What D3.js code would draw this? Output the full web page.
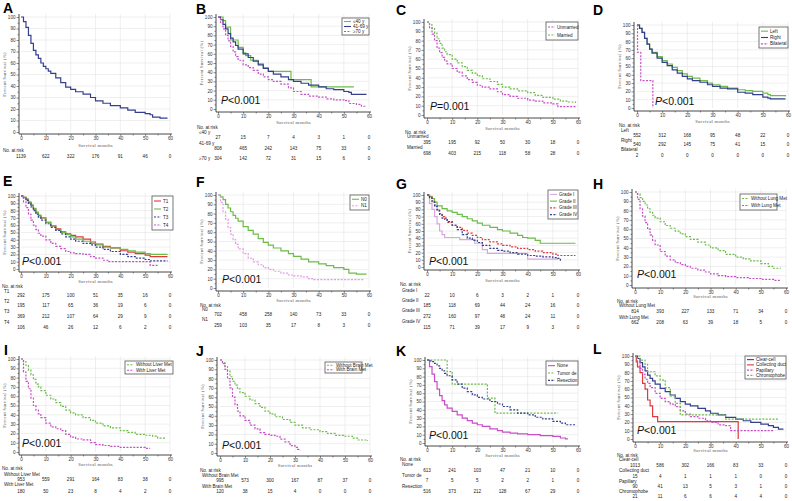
<!DOCTYPE html>
<html>
<head>
<meta charset="utf-8">
<script src="https://cdn.jsdelivr.net/npm/d3@7"></script>
<style>
  body { margin: 0; background: #fff; }
  svg { display: block; font-family: Arial, "Liberation Sans", sans-serif; }
</style>
</head>
<body>
<script>
// ticks shared by every panel
const monthTicks = [0, 10, 20, 30, 40, 50, 60];
const minorMonths = [5, 15, 25, 35, 45, 55];
const pctTicks = [0, 10, 20, 30, 40, 50, 60, 70, 80, 90, 100];
const minorPct = [5, 15, 25, 35, 45, 55, 65, 75, 85, 95];

// A - all patients
const aAll = [[0,100],[1,96],[2,91],[3,84],[4,77],[5,71],[6,67],[7,64],[8,60],[9,57],[10,55],[11,53],[12,51],[14,47],[16,43],[18,39],[20,37],[22,35],[25,33],[28,30],[30,27],[33,25],[36,23],[40,21],[43,19],[46,17],[50,16],[52,15],[53,13],[56,12],[59,12]];
const aRisk = [1139, 622, 322, 176, 91, 46, 0];

// B - age
const bNames = ['≤40 y', '41-69 y', '≥70 y'];
const b40 = [[0,100],[2,96],[3,89],[5,75],[8,67],[10,61],[11,58],[13,53],[16,49],[18,45],[20,41],[29,32],[37,24],[54,24]];
const b4169 = [[0,100],[1,97],[2,92],[3,87],[4,82],[5,77],[6,73],[7,69],[8,65],[10,60],[12,56],[14,52],[16,48],[18,44],[20,41],[22,38],[25,35],[28,32],[30,30],[33,28],[36,26],[40,24],[43,22],[46,21],[50,19],[52,18],[53,16],[59,16]];
const b70 = [[0,100],[1,94],[2,87],[3,80],[4,74],[5,68],[6,62],[7,57],[8,53],[10,48],[12,45],[14,42],[16,38],[18,35],[20,32],[22,30],[25,27],[28,23],[30,19],[33,16],[36,14],[40,13],[43,11],[46,10],[50,9],[52,6],[55,5],[57,3],[59,3]];
const bRisk = [[27,15,7,4,3,1,0],[808,465,242,143,75,33,0],[304,142,72,31,15,6,0]];

// C - marital status
const cNames = ['Unmarried', 'Married'];
const cUnmarried = [[0,100],[1,94],[2,87],[3,80],[4,72],[5,67],[6,62],[7,58],[8,55],[10,50],[12,46],[14,42],[16,38],[18,35],[20,32],[22,30],[25,28],[28,25],[30,22],[33,20],[36,18],[40,16],[43,15],[46,13],[50,12],[52,9],[59,9]];
const cMarried = [[0,100],[1,97],[2,93],[3,88],[4,82],[5,77],[6,72],[7,68],[8,65],[10,60],[12,56],[14,52],[16,48],[18,45],[20,42],[22,39],[25,36],[28,33],[30,30],[33,28],[36,26],[40,24],[43,21],[46,19],[50,17],[53,15],[56,14],[59,13]];
const cRisk = [[395,195,92,50,30,18,0],[698,403,215,118,58,28,0]];

// D - laterality
const dNames = ['Left', 'Right', 'Bilateral'];
const dLeft = [[0,100],[1,96],[2,91],[3,84],[4,77],[5,71],[6,67],[8,62],[10,57],[12,53],[14,49],[16,45],[18,41],[20,38],[22,36],[25,33],[28,30],[30,28],[33,26],[36,24],[40,22],[43,21],[46,20],[50,18],[52,16],[53,15],[59,14]];
const dRight = [[0,100],[1,96],[2,91],[3,84],[4,77],[5,71],[6,66],[8,60],[10,55],[12,51],[14,46],[16,42],[18,38],[20,35],[22,33],[25,31],[28,28],[30,26],[33,24],[36,23],[40,19],[43,18],[46,16],[50,13],[52,12],[53,11],[59,11]];
const dBilateral = [[0,100],[0.2,67],[1.5,33],[6.3,0]];
const dRisk = [[552,312,168,95,48,22,0],[540,292,145,75,41,15,0],[2,0,0,0,0,0,0]];

// E - T stage
const eNames = ['T1', 'T2', 'T3', 'T4'];
const eT1 = [[0,100],[1,98],[2,95],[3,91],[4,87],[5,82],[6,77],[7,73],[8,70],[10,64],[12,59],[14,55],[16,51],[18,48],[20,46],[22,44],[25,41],[28,37],[30,34],[33,31],[36,29],[40,25],[43,23],[46,21],[50,19],[52,17],[59,17]];
const eT2 = [[0,100],[1,98],[2,96],[3,92],[4,88],[5,83],[6,78],[7,74],[8,70],[10,64],[12,59],[14,54],[16,50],[18,47],[20,44],[22,41],[25,38],[28,35],[30,33],[33,30],[36,29],[40,27],[43,25],[46,23],[50,21],[52,20],[59,20]];
const eT3 = [[0,100],[1,97],[2,94],[3,90],[4,85],[5,80],[6,75],[7,71],[8,67],[10,62],[12,57],[14,53],[16,48],[18,44],[20,41],[22,38],[25,35],[28,33],[30,30],[33,27],[36,24],[40,20],[43,17],[46,15],[50,13],[52,11],[59,11]];
const eT4 = [[0,100],[1,92],[2,84],[3,75],[4,67],[5,60],[6,54],[7,49],[8,45],[10,40],[12,35],[14,31],[16,28],[18,24],[20,22],[22,21],[25,20],[28,17],[30,15],[33,12],[35,10],[52,5],[55,5]];
const eRisk = [[292,175,100,51,35,16,0],[195,117,65,36,19,6,0],[369,212,107,64,29,9,0],[106,46,26,12,6,2,0]];

// F - N stage
const fNames = ['N0', 'N1'];
const fN0 = [[0,100],[1,98],[2,95],[3,90],[4,86],[5,82],[6,78],[7,75],[8,72],[10,66],[12,62],[14,58],[16,53],[18,49],[20,46],[22,43],[25,40],[28,37],[30,34],[33,31],[36,28],[40,26],[43,24],[46,22],[50,20],[52,16],[55,15],[59,15]];
const fN1 = [[0,100],[1,92],[2,82],[3,74],[4,65],[5,58],[6,52],[7,47],[8,42],[10,37],[12,32],[14,28],[16,25],[18,22],[20,20],[22,18],[25,16],[28,14],[30,13],[33,12],[36,10],[38,9],[58,9]];
const fRisk = [[702,458,258,140,73,33,0],[259,103,35,17,8,3,0]];

// G - grade
const gNames = ['Grade I', 'Grade II', 'Grade III', 'Grade IV'];
const gI = [[0,100],[1,88],[2,80],[3,70],[4,60],[5,50],[6,45],[7,41],[13,38],[19,33],[22,24],[24,19],[40,11],[52,11]];
const gII = [[0,100],[1,98],[2,95],[3,90],[4,85],[6,81],[8,78],[10,76],[12,73],[14,70],[16,67],[18,64],[20,61],[22,58],[25,55],[28,52],[30,50],[33,47],[36,44],[38,41],[40,40],[43,37],[45,33],[59,33]];
const gIII = [[0,100],[1,97],[2,92],[3,86],[4,80],[5,74],[6,70],[7,66],[8,62],[10,58],[12,55],[14,51],[16,47],[18,44],[20,41],[22,38],[25,35],[28,32],[30,30],[33,28],[36,26],[40,24],[43,22],[46,20],[50,18],[52,16],[59,16]];
const gIV = [[0,100],[1,96],[2,90],[3,84],[4,78],[5,73],[6,68],[8,63],[10,58],[12,52],[14,45],[16,40],[18,37],[20,34],[22,30],[25,26],[28,23],[30,22],[33,20],[36,18],[40,16],[43,15],[46,14],[50,13],[52,12],[53,7]];
const gRisk = [[22,10,6,3,2,1,0],[185,118,69,44,24,16,0],[272,160,97,48,24,11,0],[115,71,39,17,9,3,0]];

// H - lung metastasis
const hNames = ['Without Lung Met', 'With Lung Met'];
const hWithout = [[0,100],[1,98],[2,94],[3,90],[4,86],[5,82],[6,78],[7,75],[8,72],[10,68],[12,64],[14,61],[16,58],[18,55],[20,52],[22,49],[25,46],[28,43],[30,40],[33,37],[36,33],[40,30],[43,28],[46,26],[50,23],[53,20],[55,18],[58,18]];
const hWith = [[0,100],[1,92],[2,82],[3,74],[4,67],[5,60],[6,54],[7,48],[8,43],[10,36],[12,31],[14,27],[16,24],[18,22],[20,20],[22,18],[25,16],[28,14],[30,12],[33,10],[36,9],[40,8],[45,7],[50,6],[55,5],[58,5]];
const hRisk = [[814,393,227,133,71,34,0],[662,208,63,39,18,5,0]];

// I - liver metastasis
const iNames = ['Without Liver Met', 'With Liver Met'];
const iWithout = [[0,100],[1,97],[2,93],[3,88],[4,83],[5,78],[6,73],[7,70],[8,66],[10,61],[12,57],[14,53],[16,49],[18,45],[20,42],[22,40],[25,37],[28,34],[30,31],[33,28],[36,26],[40,23],[43,21],[46,19],[50,18],[53,17],[55,15],[58,15]];
const iWith = [[0,100],[1,86],[2,76],[3,68],[4,58],[5,50],[6,45],[7,41],[8,37],[10,31],[12,27],[14,25],[16,23],[18,19],[20,16],[22,14],[25,13],[28,10],[30,8],[33,7],[36,6],[40,5],[50,4],[52,4]];
const iRisk = [[953,559,291,164,83,38,0],[180,50,23,8,4,2,0]];

// J - brain metastasis
const jNames = ['Without Brain Met', 'With Brain Met'];
const jWithout = [[0,100],[1,97],[2,93],[3,88],[4,82],[5,77],[6,73],[7,69],[8,65],[10,61],[12,57],[14,53],[16,49],[18,45],[20,42],[22,39],[25,36],[28,33],[30,30],[33,27],[36,25],[40,23],[43,21],[46,19],[50,18],[53,16],[55,14],[59,13]];
const jWith = [[0,100],[1,96],[2,90],[3,80],[4,70],[5,60],[6,52],[7,45],[8,40],[10,35],[12,30],[14,26],[16,22],[18,20],[20,19],[22,18],[24,15],[26,12],[28,8],[30,6],[31,4],[32,3]];
const jRisk = [[995,573,300,167,87,37,0],[120,38,15,4,0,0,0]];

// K - surgery
const kNames = ['None', 'Tumor de', 'Resection'];
const kNone = [[0,100],[1,92],[2,83],[3,74],[4,65],[5,57],[6,51],[7,46],[8,42],[10,38],[12,34],[14,30],[16,27],[18,24],[20,22],[22,20],[25,17],[28,15],[30,13],[33,12],[36,11],[40,10],[45,9],[50,8],[53,6],[55,5],[56,5]];
const kTumor = [[0,100],[8,86],[10,71],[24,54],[27,36],[52,36]];
const kResection = [[0,100],[1,99],[2,98],[3,96],[4,93],[5,90],[6,87],[7,84],[8,81],[10,76],[12,71],[14,66],[16,62],[18,58],[20,55],[22,53],[25,50],[28,47],[30,44],[33,40],[36,36],[40,34],[43,31],[46,29],[50,26],[53,24],[55,22],[59,22]];
const kRisk = [[613,241,103,47,21,10,0],[7,5,5,2,2,1,0],[516,373,212,128,67,29,0]];

// L - histology
const lNames = ['Clear-cell', 'Collecting duct', 'Papillary', 'Chromophobe'];
const lClear = [[0,100],[1,97],[2,92],[3,87],[4,82],[5,77],[6,73],[7,70],[8,66],[10,61],[12,57],[14,53],[16,49],[18,45],[20,42],[22,40],[25,37],[28,34],[30,31],[33,29],[36,26],[40,24],[43,22],[46,20],[50,18],[53,16],[55,14],[57,12],[59,12]];
const lCollecting = [[0,100],[0.5,93],[1,87],[2,80],[3,67],[4,60],[5,47],[6,40],[7,27],[9,21],[41,0]];
const lPapillary = [[0,100],[1,93],[2,85],[3,78],[4,72],[5,67],[6,62],[8,55],[10,49],[12,45],[14,42],[16,39],[18,34],[20,30],[22,27],[25,25],[28,22],[30,20],[33,17],[36,16],[38,10],[55,10]];
const lChromo = [[0,100],[2,95],[4,90],[5,81],[8,76],[10,71],[12,62],[14,52],[16,43],[18,29],[36,24],[57,24]];
const lRisk = [[1013,586,302,166,83,33,0],[15,4,1,1,1,0,0],[90,41,13,5,3,1,0],[21,11,6,6,4,4,0]];

const NAVY = '#353f8f', GREEN = '#6cbc4a', MAG = '#c64ec6', PINK = '#e39be3',
      RED = '#e0393e', LAV = '#d9a6e0';
const DASH = '2,1.4';

function ser(name, data, color, dashed, risk, labelY, valY) {
  return { name, data, color, dash: dashed ? DASH : null, risk, labelY, valY };
}

// layout of every panel (pixel positions only)
const panels = [
  { letter: 'A', lx: 3, ly: 13, ax: 19, x0: 21, x1: 170, y1: 17, y0: 132, axY: 134, tickY: 141, titleY: 147, headY: 152, labelX: 3,
    series: [ser(null, aAll, NAVY, false, aRisk, null, 158)], legend: null, p: null },
  { letter: 'B', lx: 196, ly: 14, ax: 216, x0: 218, x1: 369, y1: 17, y0: 109, axY: 112, tickY: 118, titleY: 124, headY: 129, labelX: 197,
    series: [ser(bNames[0], b40, GREEN, false, bRisk[0], 134, 139), ser(bNames[1], b4169, NAVY, false, bRisk[1], 145, 150), ser(bNames[2], b70, MAG, true, bRisk[2], 160, 160)],
    legend: [342, 18, 27, 17], p: [221, 104, '<0.001'] },
  { letter: 'C', lx: 396, ly: 15, ax: 424, x0: 427, x1: 578, y1: 22, y0: 115, axY: 118, tickY: 124, titleY: 130, headY: 134, labelX: 405,
    series: [ser(cNames[0], cUnmarried, MAG, true, cRisk[0], 138, 144), ser(cNames[1], cMarried, GREEN, true, cRisk[1], 149, 155)],
    legend: [546, 22, 32, 18], p: [430, 110, '=0.001'] },
  { letter: 'D', lx: 593, ly: 15, ax: 634, x0: 637, x1: 788, y1: 25, y0: 108, axY: 111, tickY: 118, titleY: 123, headY: 127, labelX: 619,
    series: [ser(dNames[0], dLeft, GREEN, false, dRisk[0], 132, 137), ser(dNames[1], dRight, NAVY, false, dRisk[1], 142, 146), ser(dNames[2], dBilateral, MAG, true, dRisk[2], 151, 157)],
    legend: [759, 27, 29, 21], p: [655, 105, '<0.001'] },
  { letter: 'E', lx: 3, ly: 186, ax: 19, x0: 21, x1: 170, y1: 196, y0: 269, axY: 272, tickY: 278, titleY: 283, headY: 288, labelX: 2,
    series: [ser(eNames[0], eT1, RED, false, eRisk[0], 293, 297), ser(eNames[1], eT2, GREEN, false, eRisk[1], 303, 307), ser(eNames[2], eT3, NAVY, true, eRisk[2], 313, 318), ser(eNames[3], eT4, MAG, true, eRisk[3], 324, 329)],
    legend: [152, 196, 21, 34], p: [22, 265, '<0.001'] },
  { letter: 'F', lx: 196, ly: 187, ax: 216, x0: 218, x1: 369, y1: 195, y0: 288, axY: 291, tickY: 296, titleY: 302, headY: 307, labelX: 200,
    series: [ser(fNames[0], fN0, GREEN, false, fRisk[0], 311, 316), ser(fNames[1], fN1, PINK, true, fRisk[1], 321, 327)],
    legend: [350, 195, 19, 15], p: [222, 283, '<0.001'] },
  { letter: 'G', lx: 396, ly: 189, ax: 424, x0: 427, x1: 578, y1: 195, y0: 267, axY: 270, tickY: 276, titleY: 282, headY: 286, labelX: 400,
    series: [ser(gNames[0], gI, LAV, false, gRisk[0], 292, 297), ser(gNames[1], gII, GREEN, false, gRisk[1], 302, 307), ser(gNames[2], gIII, RED, true, gRisk[2], 312, 318), ser(gNames[3], gIV, NAVY, true, gRisk[3], 323, 329)],
    legend: [548, 190, 30, 29], p: [429, 265, '<0.001'] },
  { letter: 'H', lx: 593, ly: 189, ax: 632, x0: 635, x1: 786, y1: 192, y0: 285, axY: 288, tickY: 293, titleY: 298, headY: 303, labelX: 617,
    series: [ser(hNames[0], hWithout, GREEN, true, hRisk[0], 307, 313), ser(hNames[1], hWith, MAG, true, hRisk[1], 319, 324)],
    legend: [740, 194, 37, 16], p: [637, 278, '<0.001'] },
  { letter: 'I', lx: 4, ly: 355, ax: 19, x0: 21, x1: 170, y1: 359, y0: 452, axY: 455, tickY: 460, titleY: 466, headY: 470, labelX: 2,
    series: [ser(iNames[0], iWithout, GREEN, true, iRisk[0], 476, 481), ser(iNames[1], iWith, MAG, true, iRisk[1], 486, 493)],
    legend: [125, 361, 48, 13], p: [22, 447, '<0.001'] },
  { letter: 'J', lx: 196, ly: 356, ax: 217, x0: 220, x1: 370, y1: 360, y0: 453, axY: 456, tickY: 461, titleY: 467, headY: 472, labelX: 200,
    series: [ser(jNames[0], jWithout, GREEN, true, jRisk[0], 477, 482), ser(jNames[1], jWith, MAG, true, jRisk[1], 488, 493)],
    legend: [325, 362, 37, 11], p: [222, 449, '<0.001'] },
  { letter: 'K', lx: 396, ly: 356, ax: 425, x0: 427, x1: 578, y1: 360, y0: 443, axY: 446, tickY: 452, titleY: 457, headY: 461, labelX: 400,
    series: [ser(kNames[0], kNone, MAG, false, kRisk[0], 466, 472), ser(kNames[1], kTumor, GREEN, true, kRisk[1], 477, 482), ser(kNames[2], kResection, NAVY, true, kRisk[2], 488, 493)],
    legend: [546, 361, 32, 24], p: [429, 439, '<0.001'] },
  { letter: 'L', lx: 593, ly: 354, ax: 633, x0: 635, x1: 786, y1: 356, y0: 439, axY: 442, tickY: 447, titleY: 452, headY: 457, labelX: 617,
    series: [ser(lNames[0], lClear, NAVY, false, lRisk[0], 461, 467), ser(lNames[1], lCollecting, RED, false, lRisk[1], 472, 478), ser(lNames[2], lPapillary, MAG, true, lRisk[2], 483, 488), ser(lNames[3], lChromo, GREEN, true, lRisk[3], 493, 498)],
    legend: [745, 356, 41, 23], p: [637, 434, '<0.001'] }
];

const svg = d3.select('body').append('svg')
  .attr('width', 792).attr('height', 501);

const FS = 4.6; // tiny text size

panels.forEach(function (p) {
  const g = svg.append('g');
  const x = d3.scaleLinear().domain([0, 60]).range([p.x0, p.x1]);
  const y = d3.scaleLinear().domain([0, 100]).range([p.y0, p.y1]);

  // grid
  g.selectAll('.vg').data(monthTicks.slice(1)).enter().append('line')
    .attr('x1', d => x(d)).attr('x2', d => x(d))
    .attr('y1', y(0)).attr('y2', y(100) - 3)
    .attr('stroke', '#e4e4e4').attr('stroke-width', 0.6);
  g.selectAll('.hg').data(pctTicks.slice(1)).enter().append('line')
    .attr('x1', x(0)).attr('x2', x(60))
    .attr('y1', d => y(d)).attr('y2', d => y(d))
    .attr('stroke', '#e4e4e4').attr('stroke-width', 0.6);

  // axes
  const xAxis = g.append('g').attr('transform', 'translate(0,' + p.axY + ')')
    .call(d3.axisBottom(x).tickValues(monthTicks).tickSize(2.5).tickPadding(1));
  g.append('g').attr('transform', 'translate(0,' + p.axY + ')')
    .call(d3.axisBottom(x).tickValues(minorMonths).tickSize(1.5).tickFormat(''));
  g.append('g').attr('transform', 'translate(' + p.ax + ',0)')
    .call(d3.axisLeft(y).tickValues(pctTicks).tickSize(2.5).tickPadding(1));
  g.append('g').attr('transform', 'translate(' + p.ax + ',0)')
    .call(d3.axisLeft(y).tickValues(minorPct).tickSize(1.5).tickFormat(''));
  g.selectAll('.domain').remove();
  g.selectAll('.tick line').attr('stroke', '#444').attr('stroke-width', 0.6);
  g.selectAll('.tick text').attr('font-size', FS).attr('fill', '#333').attr('font-family', 'Arial, sans-serif');
  xAxis.selectAll('.tick text').attr('dy', '0.6em');

  g.append('line').attr('x1', p.ax).attr('x2', p.ax)
    .attr('y1', p.axY).attr('y2', y(100) - 3)
    .attr('stroke', '#333').attr('stroke-width', 0.9);
  g.append('line').attr('x1', p.ax).attr('x2', x(60) + 2)
    .attr('y1', p.axY).attr('y2', p.axY)
    .attr('stroke', '#333').attr('stroke-width', 0.9);

  // axis titles
  g.append('text').attr('x', (p.x0 + p.x1) / 2).attr('y', p.titleY)
    .attr('text-anchor', 'middle').attr('font-size', FS)
    .attr('font-family', '"Liberation Serif", serif').attr('fill', '#555')
    .attr('letter-spacing', 0.3).text('Survival months');
  g.append('text')
    .attr('transform', 'translate(' + (p.ax - 13) + ',' + ((p.y0 + p.y1) / 2) + ') rotate(-90)')
    .attr('text-anchor', 'middle').attr('font-size', FS)
    .attr('font-family', '"Liberation Serif", serif').attr('fill', '#555')
    .attr('letter-spacing', 0.3).text('Percent Survival (%)');

  // curves
  const line = d3.line()
    .x(d => x(d[0])).y(d => y(d[1]))
    .curve(d3.curveStepAfter);
  p.series.forEach(function (s) {
    g.append('path').attr('d', line(s.data))
      .attr('fill', 'none').attr('stroke', s.color)
      .attr('stroke-width', 1.2)
      .attr('stroke-dasharray', s.dash);
  });

  // risk table
  g.append('text').attr('x', p.labelX).attr('y', p.headY)
    .attr('font-size', FS).attr('fill', '#222').text('No. at risk');
  p.series.forEach(function (s) {
    if (s.name) {
      g.append('text').attr('x', p.labelX + 2).attr('y', s.labelY)
        .attr('font-size', FS).attr('fill', '#222').text(s.name);
    }
    g.selectAll(null).data(s.risk).enter().append('text')
      .attr('x', (d, i) => x(monthTicks[i])).attr('y', s.valY)
      .attr('text-anchor', 'middle').attr('font-size', FS).attr('fill', '#222')
      .text(d => d);
  });

  // legend
  if (p.legend) {
    const [lx, ly, lw, lh] = p.legend;
    g.append('rect').attr('x', lx).attr('y', ly).attr('width', lw).attr('height', lh)
      .attr('fill', '#fff').attr('stroke', '#555').attr('stroke-width', 0.8);
    const step = (lh - 2) / p.series.length;
    p.series.forEach(function (s, i) {
      const cy = ly + 1 + step * (i + 0.5);
      g.append('line').attr('x1', lx + 2).attr('x2', lx + 9)
        .attr('y1', cy).attr('y2', cy)
        .attr('stroke', s.color).attr('stroke-width', 1.1)
        .attr('stroke-dasharray', s.dash);
      g.append('text').attr('x', lx + 11).attr('y', cy + 1.6)
        .attr('font-size', FS).attr('fill', '#222').text(s.name);
    });
  }

  // p value
  if (p.p) {
    const t = g.append('text').attr('x', p.p[0]).attr('y', p.p[1])
      .attr('font-size', 10.5).attr('fill', '#111');
    t.append('tspan').attr('font-style', 'italic').text('P');
    t.append('tspan').text(p.p[2]);
  }

  // panel letter
  g.append('text').attr('x', p.lx).attr('y', p.ly)
    .attr('font-size', 14).attr('font-weight', 'bold').attr('fill', '#000')
    .text(p.letter);
});
</script>
</body>
</html>
